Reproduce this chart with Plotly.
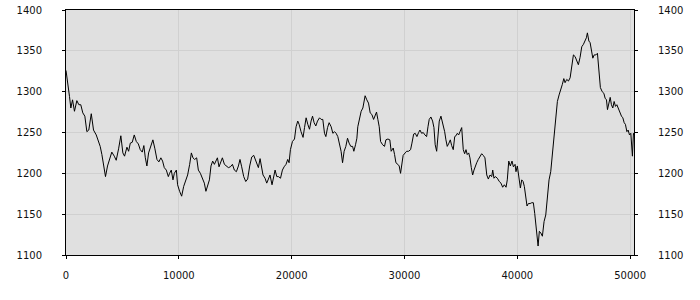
import plotly.graph_objects as go

x_vals = [
    0, 200, 310, 430, 580, 750, 960, 1140, 1310, 1490, 1670, 1850, 2020, 2240, 2440, 2680,
    2860, 3030, 3180, 3330, 3500, 3680, 3860, 4060, 4280, 4450, 4660, 4860, 5040, 5190,
    5400, 5550, 5700, 5870, 6050, 6230, 6410, 6580, 6760, 6900, 7030, 7170, 7320, 7520,
    7700, 7880, 8060, 8230,
    8410, 8560, 8710, 8890, 9070, 9180, 9330, 9480, 9600, 9780, 9890, 10070, 10250, 10430,
    10600, 10780, 10960, 11110, 11250, 11400, 11580, 11730, 11910, 12090, 12260, 12400,
    12560, 12710, 12850, 13000, 13150, 13290, 13420, 13560, 13740, 13860, 14040, 14210,
    14390, 14570, 14750, 14920, 15100, 15280, 15420, 15570, 15750, 15930, 16100, 16280,
    16460, 16640,
    16880, 17050, 17200, 17350, 17460, 17640, 17790, 17940, 18080, 18260, 18410, 18530,
    18680, 18830, 19010, 19180, 19330, 19500, 19650, 19770, 19890, 20070, 20250, 20390,
    20540, 20660, 20830, 21010, 21140, 21280, 21430, 21580, 21720, 21850, 21990, 22140,
    22290, 22470, 22610, 22760, 22910, 23030, 23180, 23320, 23500, 23650, 23800, 23940,
    24090, 24240, 24380, 24510, 24650, 24800, 24950,
    25090, 25240, 25400, 25510, 25660, 25780, 25860, 26020, 26160, 26310, 26420, 26510,
    26660, 26810, 26960, 27110, 27260, 27400, 27520, 27640, 27760, 27880, 28060, 28230,
    28350, 28530, 28700, 28820, 29000, 29120, 29240, 29410, 29530, 29650, 29770, 29880,
    30060, 30190, 30360, 30540, 30660, 30810, 30950, 31100, 31250, 31370, 31520, 31660,
    31810, 31960, 32080, 32190, 32340, 32490, 32610, 32720, 32850, 32960, 33080, 33230,
    33430, 33560, 33670, 33790, 33940, 34060, 34180, 34320, 34450, 34560, 34680, 34800,
    34920, 35070, 35210, 35330, 35450, 35560, 35690, 35800, 35920, 36040, 36160, 36270,
    36400, 36540, 36690, 36840, 36980, 37130, 37290, 37430, 37580, 37730, 37820, 37930,
    38050, 38230, 38400, 38550, 38700, 38850, 39000, 39110, 39240, 39380, 39530, 39650,
    39800, 39880, 40000, 40090, 40180, 40270, 40390, 40510, 40620, 40750, 40860, 40980,
    41130, 41280, 41420, 41540,
    41610, 41720, 41840, 41950, 42080, 42220, 42370, 42520, 42660, 42810, 42960, 43100,
    43260, 43410, 43550, 43700, 43850, 43990, 44120, 44230, 44380, 44530, 44680, 44830,
    44970, 45120, 45270, 45410, 45560, 45710, 45860, 46010, 46120, 46210, 46340, 46450,
    46570, 46690, 46810, 46960, 47100, 47250, 47360, 47520, 47670, 47780, 47900, 47990,
    48110, 48230, 48340, 48460, 48580, 48700, 48820, 48940, 49090, 49230, 49350, 49470,
    49580, 49710, 49820, 49940, 50060, 50150, 50200, 50290, 50330,
]

y_vals = [
    1326, 1309, 1294, 1280, 1290, 1276, 1289, 1284, 1284, 1274, 1270, 1251, 1253, 1273, 1253, 1247,
    1241, 1233, 1223, 1211, 1196, 1209, 1217, 1226, 1221, 1216, 1230, 1246, 1225, 1221,
    1232, 1227, 1237, 1238, 1247, 1239, 1236, 1229, 1226, 1234, 1219, 1209, 1225, 1235,
    1241, 1230, 1217, 1214,
    1219, 1215, 1207, 1204, 1196, 1200, 1204, 1192, 1200, 1204, 1186, 1178, 1172, 1184,
    1190, 1198, 1211, 1225, 1219, 1217, 1219, 1204, 1200, 1194, 1188, 1178,
    1186, 1192, 1209, 1215, 1211, 1215, 1219, 1208, 1215, 1219, 1211, 1209,
    1207, 1208, 1211, 1204, 1202, 1209, 1217, 1208, 1196, 1190, 1193, 1209,
    1220, 1222,
    1213, 1207, 1218, 1207, 1198, 1194, 1188, 1193, 1198, 1186, 1196, 1204,
    1196, 1196, 1194, 1204, 1208, 1211, 1217, 1213, 1229, 1239, 1242, 1257,
    1264, 1260, 1251, 1244, 1256, 1268, 1260, 1254, 1264, 1270, 1262, 1258,
    1264, 1268, 1266, 1266, 1249, 1245, 1256, 1262, 1257, 1249, 1251, 1249,
    1245, 1237, 1227, 1213, 1227, 1233, 1243,
    1237, 1233, 1233, 1227, 1235, 1243, 1257, 1266, 1276, 1280, 1290, 1295,
    1290, 1286, 1274, 1272, 1266, 1272, 1275, 1266, 1257, 1239, 1235, 1233,
    1241, 1242, 1241, 1227, 1231, 1223, 1213, 1211, 1209, 1200, 1209, 1222,
    1225, 1227, 1227, 1229, 1237, 1248, 1249, 1245, 1250, 1253, 1249, 1250,
    1247, 1245, 1257, 1266, 1269, 1264, 1256, 1235, 1227, 1251, 1264, 1270,
    1260, 1251, 1241, 1233, 1237, 1241, 1234, 1229, 1245, 1246, 1249, 1247,
    1251, 1256, 1229, 1224, 1229, 1223, 1225, 1219, 1207, 1198, 1204, 1209,
    1213, 1217, 1221, 1224, 1222, 1219, 1198, 1193, 1198, 1196, 1204, 1194,
    1196, 1194, 1190, 1188, 1183, 1186, 1183, 1192, 1215, 1209, 1215, 1208,
    1211, 1202, 1209, 1200, 1194, 1182, 1192, 1190, 1184, 1166, 1160, 1163,
    1163, 1164, 1164, 1151,
    1139, 1123, 1111, 1129, 1127, 1123, 1141, 1149, 1166, 1192, 1202, 1221,
    1247, 1272, 1288, 1296, 1302, 1309, 1316, 1311, 1315, 1313, 1317, 1329,
    1345, 1343, 1337, 1333, 1342, 1355, 1358, 1362, 1366, 1372, 1362, 1360,
    1351, 1341, 1345, 1345, 1347, 1327, 1305, 1300, 1298, 1292, 1290, 1278,
    1288, 1293, 1284, 1280, 1288, 1282, 1284, 1280, 1274, 1270, 1268, 1262,
    1260, 1251, 1253, 1247, 1249, 1235, 1221, 1249, 1247,
]

x_ticks = [0, 10000, 20000, 30000, 40000, 50000]
y_ticks = [1100, 1150, 1200, 1250, 1300, 1350, 1400]
x_range = [0, 50340]
y_range = [1100, 1400]

font = dict(family="DejaVu Sans", size=10, color="#111111")

fig = go.Figure()
fig.add_trace(go.Scatter(x=x_vals, y=y_vals, mode="lines",
                         line=dict(color="black", width=1), showlegend=False,
                         hoverinfo="skip"))
fig.add_trace(go.Scatter(x=[x_vals[0]], y=[y_vals[0]], mode="lines", yaxis="y2",
                         line=dict(color="rgba(0,0,0,0)", width=0), showlegend=False,
                         hoverinfo="skip"))

fig.update_layout(
    width=700, height=300,
    margin=dict(l=66, r=66, t=10, b=45, autoexpand=False),
    paper_bgcolor="white", plot_bgcolor="#e0e0e0",
    font=font,
    xaxis=dict(range=x_range, tickvals=x_ticks, ticktext=[str(v) for v in x_ticks],
               showgrid=True, gridcolor="#d0d0d0", gridwidth=1, zeroline=False,
               showline=True, linecolor="black", linewidth=1, mirror=True, automargin=False,
               ticks="outside", ticklen=3, tickcolor="black", ticklabelstandoff=8),
    yaxis=dict(range=y_range, tickvals=y_ticks, ticktext=[str(v) for v in y_ticks],
               showgrid=True, gridcolor="#d0d0d0", gridwidth=1, zeroline=False,
               showline=True, linecolor="black", linewidth=1, mirror=True, automargin=False,
               ticks="outside", ticklen=3, tickcolor="black", ticklabelstandoff=18),
    yaxis2=dict(range=y_range, tickvals=y_ticks, ticktext=[str(v) for v in y_ticks],
                overlaying="y", side="right", showgrid=False, zeroline=False,
                showline=True, linecolor="black", linewidth=1, automargin=False,
                ticks="outside", ticklen=3, tickcolor="black", ticklabelstandoff=18),
)

fig.write_html("out.html")
